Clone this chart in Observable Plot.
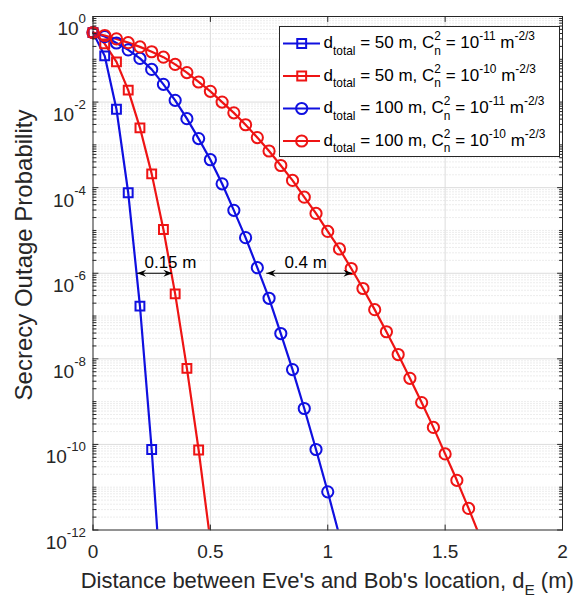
<!DOCTYPE html>
<html>
<head>
<meta charset="utf-8">
<script src="https://cdn.jsdelivr.net/npm/d3@7"></script>
<script src="https://cdn.jsdelivr.net/npm/@observablehq/plot@0.6"></script>
<style>
  html, body { margin: 0; padding: 0; background: #fff; }
  #chart svg text { white-space: pre; }
</style>
</head>
<body>
<div id="chart"></div>
<script>
// ---------------- data ----------------
const dE_sq50a = [0, 0.05, 0.1, 0.15, 0.2, 0.25, 0.3];
const P_50_1e11 = [4.2e-1, 1.2e-1, 6.8e-3, 7.6e-5, 1.7e-7, 7.6e-11, 8e-15];

const dE_sq50b = [0, 0.05, 0.1, 0.15, 0.2, 0.25, 0.3, 0.35, 0.4, 0.45, 0.5];
const P_50_1e10 = [4.2e-1, 2.3e-1, 8.7e-2, 1.9e-2, 2.5e-3, 2.1e-4, 1.05e-5, 3.3e-7, 6.0e-9, 7.4e-11, 5.5e-13];

const dE_c100a = [0, 0.05, 0.1, 0.15, 0.2, 0.25, 0.3, 0.35, 0.4, 0.45, 0.5, 0.55, 0.6, 0.65, 0.7, 0.75, 0.8, 0.85, 0.9, 0.95, 1.0, 1.05];
const P_100_1e11 = [4.2e-1, 3.4e-1, 2.4e-1, 1.66e-1, 1.05e-1, 5.8e-2, 2.6e-2, 1.1e-2, 4.1e-3, 1.4e-3, 4.5e-4, 1.23e-4, 2.95e-5, 6.8e-6, 1.35e-6, 2.6e-7, 3.9e-8, 5.6e-9, 6.9e-10, 7.6e-11, 7.8e-12, 7.2e-13];

const dE_c100b = [0, 0.05, 0.1, 0.15, 0.2, 0.25, 0.3, 0.35, 0.4, 0.45, 0.5, 0.55, 0.6, 0.65, 0.7, 0.75, 0.8, 0.85, 0.9, 0.95, 1.0, 1.05, 1.1, 1.15, 1.2, 1.25, 1.3, 1.35, 1.4, 1.45, 1.5, 1.55, 1.6, 1.65];
const P_100_1e10 = [4.2e-1, 3.6e-1, 3.0e-1, 2.45e-1, 1.95e-1, 1.5e-1, 1.12e-1, 7.6e-2, 4.9e-2, 2.95e-2, 1.78e-2, 1.0e-2, 5.6e-3, 2.95e-3, 1.48e-3, 7.2e-4, 3.3e-4, 1.48e-4, 6.0e-5, 2.5e-5, 9.5e-6, 3.7e-6, 1.29e-6, 4.4e-7, 1.41e-7, 4.3e-8, 1.26e-8, 3.5e-9, 9.5e-10, 2.5e-10, 6.0e-11, 1.45e-11, 3.2e-12, 6.6e-13];

const seriesDistance = ["50", "50", "100", "100"];
const seriesCn2 = ["-11", "-10", "-11", "-10"];

// axes
const xTicks = [0, 0.5, 1, 1.5, 2];
const xTickLabels = ["0", "0.5", "1", "1.5", "2"];
const yTicks = [1e0, 1e-2, 1e-4, 1e-6, 1e-8, 1e-10, 1e-12];
const yTickExponents = ["0", "-2", "-4", "-6", "-8", "-10", "-12"];

// annotations (double arrows at P = 1e-6)
const annotLabel = ["0.15 m", "0.4 m"];
const annotFrom = [0.188, 0.74];
const annotTo = [0.338, 1.105];
const annotTextX = [0.33, 0.906];
const annotY = [1e-6, 1e-6];

// ---------------- style ----------------
const FONT = '"Liberation Sans", Arial, Helvetica, sans-serif';
const AX = "#262626";
const BLUE = "#1010e0";
const RED = "#ee1414";
const seriesColor = [BLUE, RED, BLUE, RED];
const seriesSymbol = ["square", "square", "circle", "circle"];
const seriesR = {square: 5.0, circle: 5.6};

const W = 574, H = 597;
const mL = 92.5, mR = 12, mT = 16, mB = 67.5;

// build tables
const xs = [dE_sq50a, dE_sq50b, dE_c100a, dE_c100b];
const ys = [P_50_1e11, P_50_1e10, P_100_1e11, P_100_1e10];
const rows = [];
xs.forEach((X, s) => X.forEach((x, i) => rows.push({s, x, p: ys[s][i]})));
const annot = annotLabel.map((label, i) => ({label, from: annotFrom[i], to: annotTo[i], tx: annotTextX[i], y: annotY[i]}));

// minor grid positions (log decades)
const yMinor = [];
for (let n = -12; n < 0; n++) {
  for (let k = 1; k <= 9; k++) {
    const v = k * Math.pow(10, n);
    if (k === 1 && n % 2 === 0) continue;
    yMinor.push(v);
  }
}

const tickShape = {draw(context, l) { context.moveTo(0, 0); context.lineTo(0, -l); }};
const headLeft = {draw(ctx) { ctx.moveTo(0, 0); ctx.lineTo(9, -3.6); ctx.lineTo(6, 0); ctx.lineTo(9, 3.6); ctx.closePath(); }};
const headRight = {draw(ctx) { ctx.moveTo(0, 0); ctx.lineTo(-9, -3.6); ctx.lineTo(-6, 0); ctx.lineTo(-9, 3.6); ctx.closePath(); }};

const lineMarks = [0, 1, 2, 3].map(s =>
  Plot.line(rows.filter(d => d.s === s), {x: "x", y: "p", stroke: seriesColor[s], strokeWidth: 2.2, clip: true})
);
const dotMarks = [0, 1, 2, 3].map(s =>
  Plot.dot(rows.filter(d => d.s === s && d.p >= 1e-12), {x: "x", y: "p", symbol: seriesSymbol[s], r: seriesR[seriesSymbol[s]], stroke: seriesColor[s], strokeWidth: 2, fill: "none"})
);

const tickV = (data, ch, anchor, rot, len) =>
  Plot.vector(data, {[ch]: d => d, frameAnchor: anchor, rotate: rot, length: len, anchor: "start", shape: tickShape, stroke: AX, strokeWidth: 1});

const chart = Plot.plot({
  width: W, height: H,
  marginLeft: mL, marginRight: mR, marginTop: mT, marginBottom: mB,
  style: {fontFamily: FONT, fontSize: "19px", color: AX, background: "white", overflow: "visible"},
  x: {domain: [0, 2]},
  y: {type: "log", domain: [1e-12, 1]},
  marks: [
    Plot.ruleY(yMinor, {stroke: "#b8b8b8", strokeOpacity: 0.5, strokeDasharray: "1,2", strokeWidth: 1}),
    Plot.ruleY(yTicks.slice(1, -1), {stroke: "#dcdcdc", strokeWidth: 1}),
    Plot.ruleX(xTicks.slice(1, -1), {stroke: "#dcdcdc", strokeWidth: 1}),
    ...lineMarks,
    ...dotMarks,
    Plot.ruleY(annot, {y: "y", x1: "from", x2: "to", stroke: "black", strokeWidth: 1}),
    Plot.dot(annot, {x: "from", y: "y", symbol: headLeft, fill: "black", stroke: "none"}),
    Plot.dot(annot, {x: "to", y: "y", symbol: headRight, fill: "black", stroke: "none"}),
    Plot.text(annot, {x: "tx", y: "y", text: "label", dy: -11, fontSize: 17, fill: "black", fontFamily: FONT}),
    Plot.frame({stroke: AX, strokeWidth: 1}),
    tickV(xTicks, "x", "bottom", 0, 5),
    tickV(xTicks, "x", "top", 180, 5),
    tickV(yTicks, "y", "left", 90, 5),
    tickV(yTicks, "y", "right", -90, 5),
    tickV(yMinor, "y", "left", 90, 3),
    tickV(yMinor, "y", "right", -90, 3),
    Plot.axisX({ticks: xTicks, tickSize: 0, tickPadding: 14.5, tickFormat: (d) => xTickLabels[xTicks.indexOf(d)], label: null, fontSize: 19}),
    Plot.axisY({ticks: yTicks, tickSize: 0, tickPadding: 7, tickFormat: d => "E" + yTickExponents[yTicks.indexOf(d)], label: null, fontSize: 19})
  ]
});
document.getElementById("chart").appendChild(chart);

// ---------------- text post-processing ----------------
const svg = d3.select(chart);

function rich(textSel, parts) {
  let cur = 0;
  for (const p of parts) {
    const off = p.off || 0;
    const ts = textSel.append("tspan").text(p.t);
    if (off !== cur) ts.attr("dy", off - cur);
    ts.attr("font-size", p.small ? "70%" : null);
    if (p.dx) ts.attr("dx", p.dx);
    cur = off;
  }
}

// y tick labels: 10 with superscript exponent
svg.selectAll('[aria-label="y-axis tick label"] text').each(function() {
  const t = d3.select(this);
  const exp = t.text().slice(1);
  t.text(null).attr("dy", "12.8");
  rich(t, [{t: "10"}, {t: exp, off: -12, small: true}]);
});

// x label
const xLab = svg.append("text")
  .attr("x", (mL + (W - mR)) / 2).attr("y", 587.5)
  .attr("text-anchor", "middle").attr("font-family", FONT).attr("font-size", 22).attr("fill", AX);
rich(xLab, [{t: "Distance between Eve's and Bob's location, d"}, {t: "E", off: 7, small: true}, {t: " (m)", off: 0}]);

// y label
svg.append("text")
  .attr("transform", `translate(32,255) rotate(-90)`)
  .attr("text-anchor", "middle").attr("font-family", FONT).attr("font-size", 24).attr("fill", AX)
  .text("Secrecy Outage Probability");

// legend
const lg = svg.append("g").attr("font-family", FONT).attr("font-size", 17).attr("fill", "black").attr("text-anchor", "start");
lg.append("rect").attr("x", 279.5).attr("y", 26.5).attr("width", 280).attr("height", 130)
  .attr("fill", "white").attr("stroke", AX).attr("stroke-width", 1);
[0, 1, 2, 3].forEach(s => {
  const cy = 43.5 + s * 32.5;
  lg.append("line").attr("x1", 283).attr("x2", 320).attr("y1", cy).attr("y2", cy)
    .attr("stroke", seriesColor[s]).attr("stroke-width", 2.2);
  const sym = d3.symbol(seriesSymbol[s] === "square" ? d3.symbolSquare : d3.symbolCircle, Math.PI * Math.pow(seriesR[seriesSymbol[s]], 2));
  lg.append("path").attr("d", sym()).attr("transform", `translate(301.7,${cy})`)
    .attr("fill", "none").attr("stroke", seriesColor[s]).attr("stroke-width", 2);
  const t = lg.append("text").attr("x", 323.5).attr("y", cy + 4.5).attr("text-anchor", "start");
  rich(t, [
    {t: "d"}, {t: "total", off: 6.5, small: true},
    {t: ` = ${seriesDistance[s]} m, C`, off: 0},
    {t: "2", off: -8, small: true}, {t: "n", off: 6.5, small: true, dx: -6.6},
    {t: " = 10", off: 0}, {t: seriesCn2[s], off: -8, small: true},
    {t: " m", off: 0}, {t: "-2/3", off: -8, small: true}
  ]);
});
</script>
</body>
</html>
